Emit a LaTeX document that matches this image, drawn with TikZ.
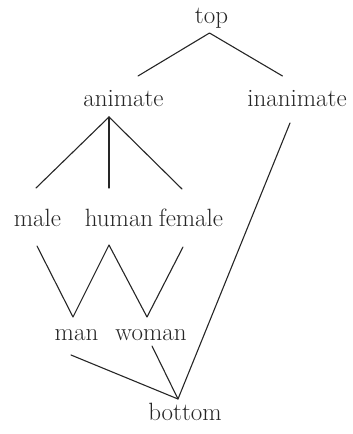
\documentclass[tikz,border=0pt]{standalone}
\begin{document}
\begin{tikzpicture}[x=1pt,y=-1pt,
  lbl/.style={anchor=base,inner sep=0pt,text=black!85,font=\fontsize{25}{29}\selectfont},
  edge/.style={line width=1.1pt,draw=black!85,line cap=round,line join=round}]
\useasboundingbox (0,0) rectangle (353,434);
% labels
\node[lbl] (top) at (211.5,23) {top};
\node[lbl] (animate) at (123.5,106) {animate};
\node[lbl] (inanimate) at (297,106) {inanimate};
\node[lbl] (male) at (37.5,226) {male};
\node[lbl] (human) at (119,226) {human};
\node[lbl] (female) at (191,226) {female};
\node[lbl] (man) at (76.5,340) {man};
\node[lbl] (woman) at (151,340) {woman};
\node[lbl] (bottom) at (185,420) {bottom};
% connector end points
\coordinate (top-s) at (209.5,33);
\coordinate (animate-n) at (138,76);
\coordinate (inanimate-n) at (282.5,76);
\coordinate (animate-s) at (109,117);
\coordinate (male-n) at (36,188);
\coordinate (human-n) at (109,188);
\coordinate (female-n) at (182,189);
\coordinate (inanimate-s) at (290,123);
\coordinate (male-s) at (37,246);
\coordinate (human-s) at (109,245);
\coordinate (female-s) at (183,247);
\coordinate (man-n) at (73,317);
\coordinate (woman-n) at (147,317);
\coordinate (man-s) at (71,355);
\coordinate (woman-s) at (152,346);
\coordinate (bottom-n) at (178,399);
% connectors
\draw[edge] (animate-n) -- (top-s) -- (inanimate-n);
\draw[edge] (animate-s) -- (male-n);
\draw[edge] (animate-s) -- (human-n);
\draw[edge] (animate-s) -- (female-n);
\draw[edge] (male-s) -- (man-n) -- (human-s) -- (woman-n) -- (female-s);
\draw[edge] (man-s) -- (bottom-n) -- (inanimate-s);
\draw[edge] (woman-s) -- (bottom-n);
\end{tikzpicture}
\end{document}
